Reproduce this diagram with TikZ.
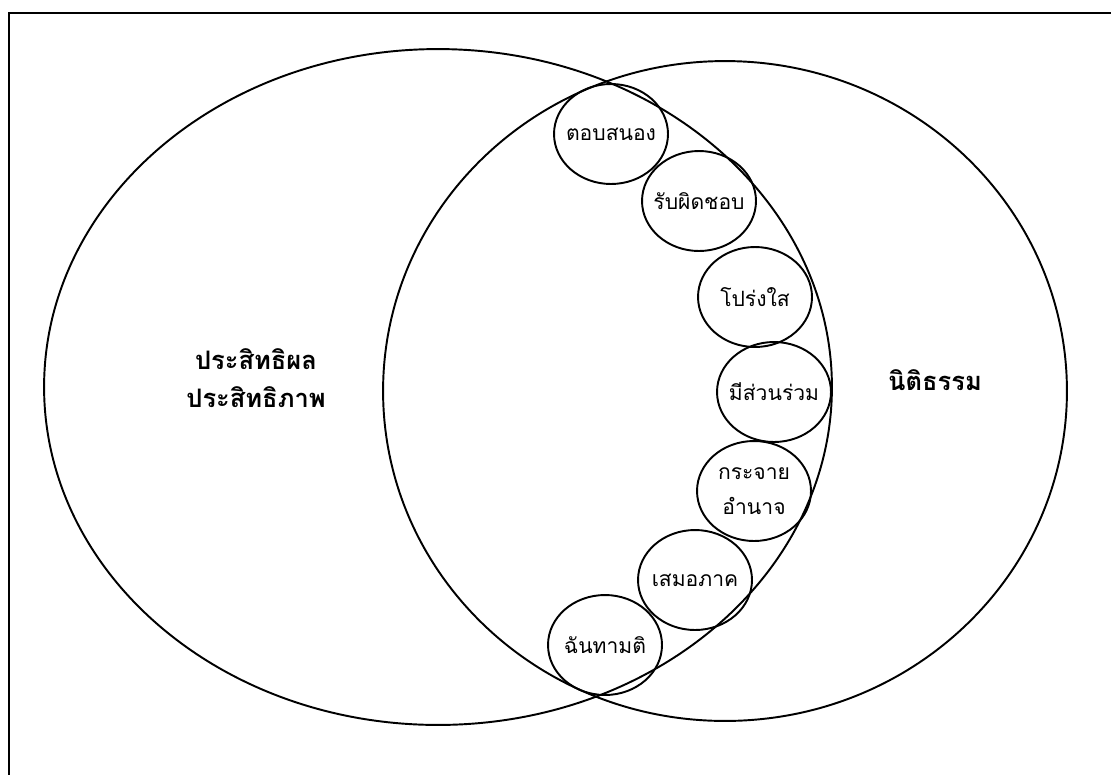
\documentclass[tikz,border=0pt]{standalone}
\usepackage{fontspec}
\newfontfamily\thaifont[Script=Thai]{Loma}
\usetikzlibrary{shapes.geometric}

\begin{document}
\begin{tikzpicture}[x=0.02cm,y=-0.02cm,line width=1.1pt]

  \tikzstyle{bigcircle}=[draw,shape=ellipse,inner sep=0pt]
  \tikzstyle{smallcircle}=[draw,shape=ellipse,minimum width=2.28cm,minimum height=2cm,inner sep=0pt]
  \tikzstyle{smalllabel}=[align=center,font=\thaifont\fontsize{12}{19.5}\selectfont]
  \tikzstyle{biglabel}=[align=center,font=\thaifont\bfseries\fontsize{14.5}{21.5}\selectfont]

  \useasboundingbox (0,0) rectangle (1111,775);

  % frame (only top and left edges show)
  \coordinate (ftr) at (1111,13);
  \coordinate (ftl) at (9,13);
  \coordinate (fbl) at (9,775);
  \draw[line width=1.3pt] (ftr) -- (ftl) -- (fbl);

  \node[bigcircle,minimum width=15.76cm,minimum height=13.52cm] (left)  at (438,387) {};
  \node[bigcircle,minimum width=13.68cm,minimum height=13.2cm]  (right) at (725,391) {};

  \node[biglabel] (lefttext)  at (256,378) {ประสิทธิผล\\ประสิทธิภาพ};
  \node[biglabel] (righttext) at (935,380) {นิติธรรม};

  \node[smallcircle] (c0) at (611,134) {};
  \node[smallcircle] (c1) at (699,201) {};
  \node[smallcircle] (c2) at (755,297) {};
  \node[smallcircle] (c3) at (774,392) {};
  \node[smallcircle] (c4) at (754,491) {};
  \node[smallcircle] (c5) at (695,580) {};
  \node[smallcircle] (c6) at (605,645) {};

  \node[smalllabel] at (c0) {ตอบสนอง};
  \node[smalllabel] at (c1) {รับผิดชอบ};
  \node[smalllabel] at (c2) {โปร่งใส};
  \node[smalllabel] at (c3) {มีส่วนร่วม};
  \node[smalllabel] at (c4) {กระจาย\\อำนาจ};
  \node[smalllabel] at (c5) {เสมอภาค};
  \node[smalllabel] at (c6) {ฉันทามติ};

\end{tikzpicture}
\end{document}
